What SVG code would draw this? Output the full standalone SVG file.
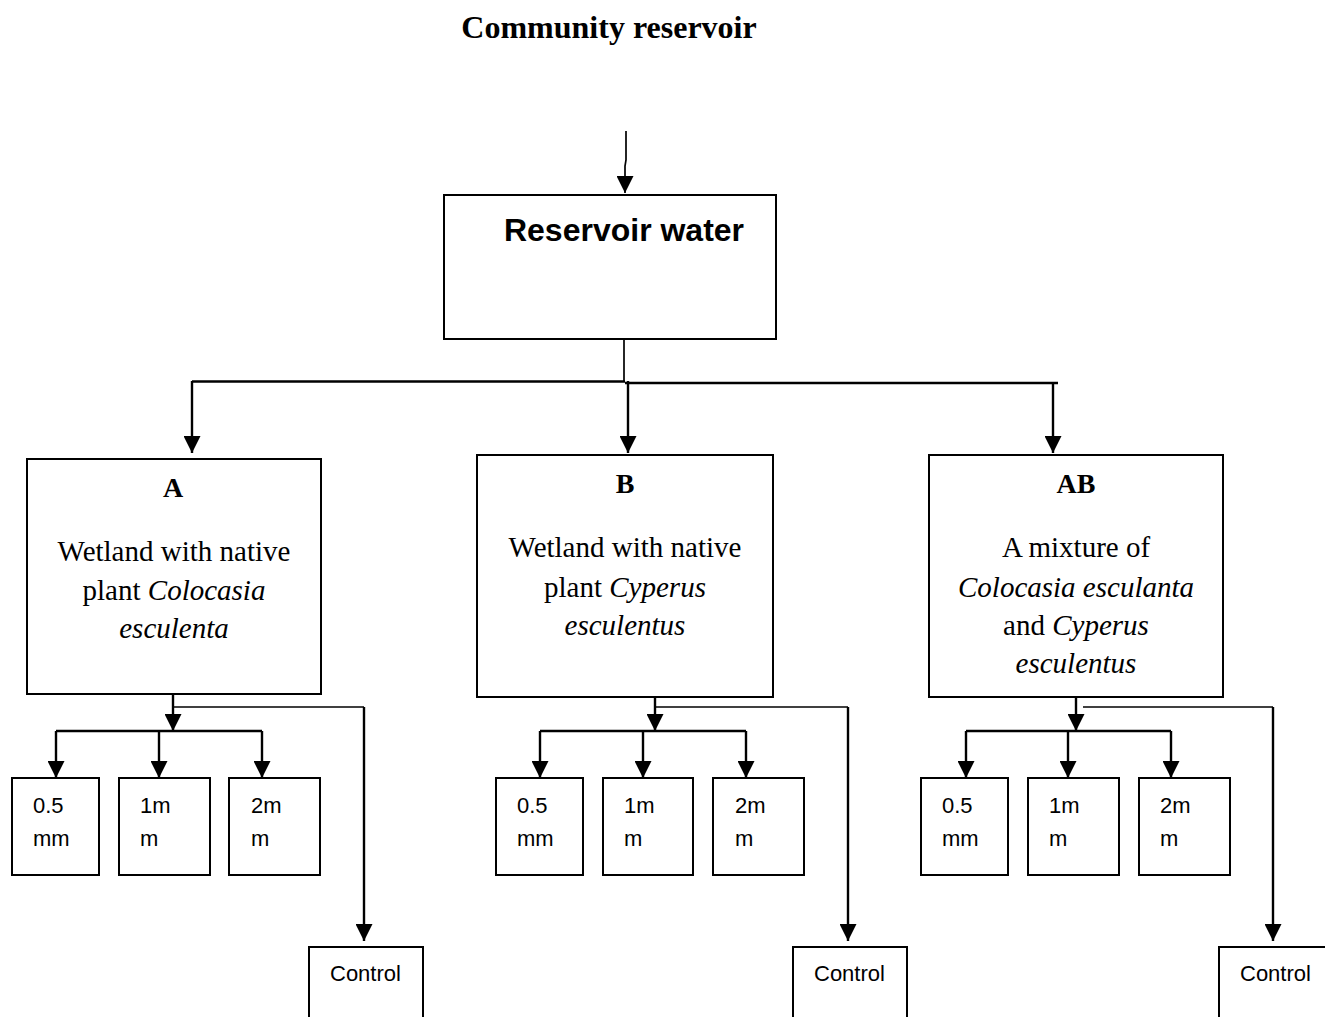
<svg xmlns="http://www.w3.org/2000/svg" width="1325" height="1017" viewBox="0 0 1325 1017">
<style>
.box{fill:#fff;stroke:#000;stroke-width:2}
.ln{fill:none;stroke:#000;stroke-width:2.4}
.thin{fill:none;stroke:#000;stroke-width:1.7}
.serif{font-family:"Liberation Serif","Times New Roman",serif;font-size:29px;fill:#000}
.title{font-family:"Liberation Serif","Times New Roman",serif;font-size:32px;font-weight:bold;fill:#000}
.lab{font-family:"Liberation Serif","Times New Roman",serif;font-size:28px;font-weight:bold;fill:#000}
.sans{font-family:"Liberation Sans",Arial,sans-serif;font-size:22px;fill:#000}
.big{font-family:"Liberation Sans",Arial,sans-serif;font-size:32px;font-weight:bold;fill:#000}
</style>
<defs>
<marker id="ah" markerUnits="userSpaceOnUse" markerWidth="17" markerHeight="17" refX="16" refY="8" orient="auto" viewBox="0 0 16 16">
<path d="M0,0 L16,8 L0,16 z" fill="#000"/>
</marker>
</defs>

<text class="title" x="609" y="38" text-anchor="middle">Community reservoir</text>

<g id="connectors">
<path class="thin" d="M626,131 L626,160 L625,166 L625,193" marker-end="url(#ah)"/>
<path class="thin" d="M624,339 L624,382"/>
<path class="ln" d="M192,381.5 L625,381.5"/>
<path class="ln" d="M625,383 L1058,383"/>
<path class="ln" d="M192,381 L192,453" marker-end="url(#ah)"/>
<path class="ln" d="M628,381 L628,453" marker-end="url(#ah)"/>
<path class="ln" d="M1053,383 L1053,453" marker-end="url(#ah)"/>

<!-- A -->
<path class="ln" d="M173,694 L173,731" marker-end="url(#ah)"/>
<path class="ln" d="M56,731 L262,731"/>
<path class="ln" d="M56,731 L56,778" marker-end="url(#ah)"/>
<path class="ln" d="M159,731 L159,778" marker-end="url(#ah)"/>
<path class="ln" d="M262,731 L262,778" marker-end="url(#ah)"/>
<path class="thin" d="M173,707 L364,707"/>
<path class="ln" d="M364,707 L364,941" marker-end="url(#ah)"/>

<!-- B -->
<path class="ln" d="M655,697 L655,731" marker-end="url(#ah)"/>
<path class="ln" d="M540,731 L746,731"/>
<path class="ln" d="M540,731 L540,778" marker-end="url(#ah)"/>
<path class="ln" d="M643,731 L643,778" marker-end="url(#ah)"/>
<path class="ln" d="M746,731 L746,778" marker-end="url(#ah)"/>
<path class="thin" d="M655,707 L848,707"/>
<path class="ln" d="M848,707 L848,941" marker-end="url(#ah)"/>

<!-- AB -->
<path class="ln" d="M1076,697 L1076,731" marker-end="url(#ah)"/>
<path class="ln" d="M966,731 L1171,731"/>
<path class="ln" d="M966,731 L966,778" marker-end="url(#ah)"/>
<path class="ln" d="M1068,731 L1068,778" marker-end="url(#ah)"/>
<path class="ln" d="M1171,731 L1171,778" marker-end="url(#ah)"/>
<path class="thin" d="M1083,707 L1273,707"/>
<path class="ln" d="M1273,707 L1273,941" marker-end="url(#ah)"/>
</g>

<g id="reservoir">
<rect class="box" x="444" y="195" width="332" height="144"/>
<text class="big" x="624" y="241" text-anchor="middle">Reservoir water</text>
</g>

<g id="nodeA">
<rect class="box" x="27" y="459" width="294" height="235"/>
<text class="lab" x="173" y="497" text-anchor="middle">A</text>
<text class="serif" x="174" y="561" text-anchor="middle">Wetland with native</text>
<text class="serif" x="174" y="600" text-anchor="middle">plant <tspan font-style="italic">Colocasia</tspan></text>
<text class="serif" x="174" y="638" text-anchor="middle" font-style="italic">esculenta</text>
</g>

<g id="nodeB">
<rect class="box" x="477" y="455" width="296" height="242"/>
<text class="lab" x="625" y="493" text-anchor="middle">B</text>
<text class="serif" x="625" y="557" text-anchor="middle">Wetland with native</text>
<text class="serif" x="625" y="597" text-anchor="middle">plant <tspan font-style="italic">Cyperus</tspan></text>
<text class="serif" x="625" y="635" text-anchor="middle" font-style="italic">esculentus</text>
</g>

<g id="nodeAB">
<rect class="box" x="929" y="455" width="294" height="242"/>
<text class="lab" x="1076" y="493" text-anchor="middle">AB</text>
<text class="serif" x="1076" y="557" text-anchor="middle">A mixture of</text>
<text class="serif" x="1076" y="597" text-anchor="middle" font-style="italic">Colocasia esculanta</text>
<text class="serif" x="1076" y="635" text-anchor="middle">and <tspan font-style="italic">Cyperus</tspan></text>
<text class="serif" x="1076" y="673" text-anchor="middle" font-style="italic">esculentus</text>
</g>

<g id="A05"><rect class="box" x="12" y="778" width="87" height="97"/><text class="sans" x="33" y="813">0.5</text><text class="sans" x="33" y="846">mm</text></g>
<g id="A1"><rect class="box" x="119" y="778" width="91" height="97"/><text class="sans" x="140" y="813">1m</text><text class="sans" x="140" y="846">m</text></g>
<g id="A2"><rect class="box" x="229" y="778" width="91" height="97"/><text class="sans" x="251" y="813">2m</text><text class="sans" x="251" y="846">m</text></g>
<g id="Actrl"><rect class="box" x="309" y="947" width="114" height="90"/><text class="sans" x="330" y="981">Control</text></g>

<g id="B05"><rect class="box" x="496" y="778" width="87" height="97"/><text class="sans" x="517" y="813">0.5</text><text class="sans" x="517" y="846">mm</text></g>
<g id="B1"><rect class="box" x="603" y="778" width="90" height="97"/><text class="sans" x="624" y="813">1m</text><text class="sans" x="624" y="846">m</text></g>
<g id="B2"><rect class="box" x="713" y="778" width="91" height="97"/><text class="sans" x="735" y="813">2m</text><text class="sans" x="735" y="846">m</text></g>
<g id="Bctrl"><rect class="box" x="793" y="947" width="114" height="90"/><text class="sans" x="814" y="981">Control</text></g>

<g id="AB05"><rect class="box" x="921" y="778" width="87" height="97"/><text class="sans" x="942" y="813">0.5</text><text class="sans" x="942" y="846">mm</text></g>
<g id="AB1"><rect class="box" x="1028" y="778" width="91" height="97"/><text class="sans" x="1049" y="813">1m</text><text class="sans" x="1049" y="846">m</text></g>
<g id="AB2"><rect class="box" x="1139" y="778" width="91" height="97"/><text class="sans" x="1160" y="813">2m</text><text class="sans" x="1160" y="846">m</text></g>
<g id="ABctrl"><rect class="box" x="1219" y="947" width="120" height="90"/><text class="sans" x="1240" y="981">Control</text></g>
</svg>
